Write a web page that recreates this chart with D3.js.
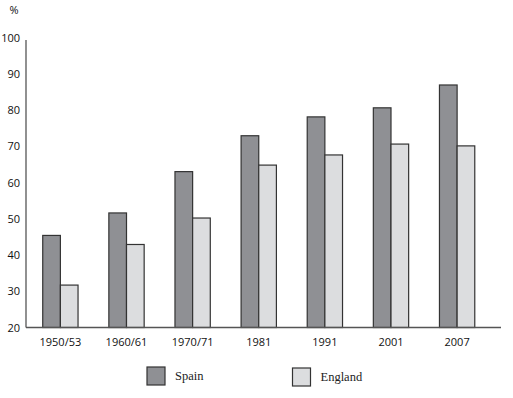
<!DOCTYPE html>
<html>
<head>
<meta charset="utf-8">
<script src="https://cdn.jsdelivr.net/npm/d3@7"></script>
<style>
  body { margin: 0; background: #fff; }
  svg { display: block; }
</style>
</head>
<body>
<div id="chart"></div>
<script>
// datos
const periods = ["1950/53", "1960/61", "1970/71", "1981", "1991", "2001", "2007"];
const spain   = [45.4, 51.6, 63.0, 72.9, 78.1, 80.6, 86.9];
const england = [31.7, 42.9, 50.2, 64.8, 67.6, 70.6, 70.1];
const seriesNames = ["Spain", "England"];
const yTicks = [20, 30, 40, 50, 60, 70, 80, 90, 100];

const W = 513, H = 398;
const colors = { Spain: "#8f9094", England: "#dcdddf" };
const serif = "'Liberation Serif', 'DejaVu Serif', 'Times New Roman', Times, serif";

const svg = d3.select("#chart").append("svg")
  .attr("width", W).attr("height", H);

const y = d3.scaleLinear().domain([20, 100]).range([327.5, 37.5]);

const x = d3.scaleBand()
  .domain(periods)
  .range([26, 491.5])
  .paddingInner(0.466)
  .paddingOuter(0.253);

const xs = d3.scaleBand().domain(seriesNames).range([0, x.bandwidth()]);

// eje y
const yAxis = svg.append("g")
  .attr("transform", "translate(26,0)")
  .call(d3.axisLeft(y).tickValues(yTicks).tickSize(0).tickPadding(6));
yAxis.select(".domain").remove();
yAxis.selectAll("text")
  .style("font-family", "'Open Sans', sans-serif")
  .style("font-size", "11px")
  .attr("fill", "#111");

svg.append("line")
  .attr("x1", 26).attr("x2", 26)
  .attr("y1", 40).attr("y2", y(20))
  .attr("stroke", "#555").attr("stroke-width", 1.3);

svg.append("text")
  .attr("x", 14).attr("y", 14)
  .attr("text-anchor", "middle")
  .style("font-family", "'Open Sans', sans-serif")
  .style("font-size", "11px")
  .attr("fill", "#111")
  .text("%");

// barras
const rows = periods.map((p, i) => ({ period: p, Spain: spain[i], England: england[i] }));

const groups = svg.selectAll("g.grp")
  .data(rows)
  .enter().append("g")
  .attr("class", "grp")
  .attr("transform", d => "translate(" + x(d.period) + ",0)");

groups.selectAll("rect")
  .data(d => seriesNames.map(k => ({ key: k, value: d[k] })))
  .enter().append("rect")
  .attr("x", d => xs(d.key))
  .attr("y", d => y(d.value))
  .attr("width", xs.bandwidth())
  .attr("height", d => y(20) - y(d.value))
  .attr("fill", d => colors[d.key])
  .attr("stroke", "#333")
  .attr("stroke-width", 1.2);

// eje x
const xAxis = svg.append("g")
  .attr("transform", "translate(0," + y(20) + ")")
  .call(d3.axisBottom(x).tickSize(0).tickPadding(11));
xAxis.select(".domain").remove();
xAxis.selectAll("text")
  .style("font-family", "'Open Sans', sans-serif")
  .style("font-size", "11px")
  .attr("fill", "#111");

svg.append("line")
  .attr("x1", 26).attr("x2", 501)
  .attr("y1", y(20)).attr("y2", y(20))
  .attr("stroke", "#555").attr("stroke-width", 1.3);

// leyenda
const legendX = [147, 292.5];
const legend = svg.selectAll("g.leg")
  .data(seriesNames)
  .enter().append("g")
  .attr("class", "leg")
  .attr("transform", (d, i) => "translate(" + legendX[i] + "," + (367 + i) + ")");

legend.append("rect")
  .attr("width", 18).attr("height", 18)
  .attr("fill", d => colors[d])
  .attr("stroke", "#333").attr("stroke-width", 1.2);

legend.append("text")
  .attr("x", 28).attr("y", 13)
  .attr("font-family", serif)
  .style("font-family", serif)
  .style("font-size", "12.5px")
  .attr("fill", "#222")
  .text(d => d);
</script>
</body>
</html>
